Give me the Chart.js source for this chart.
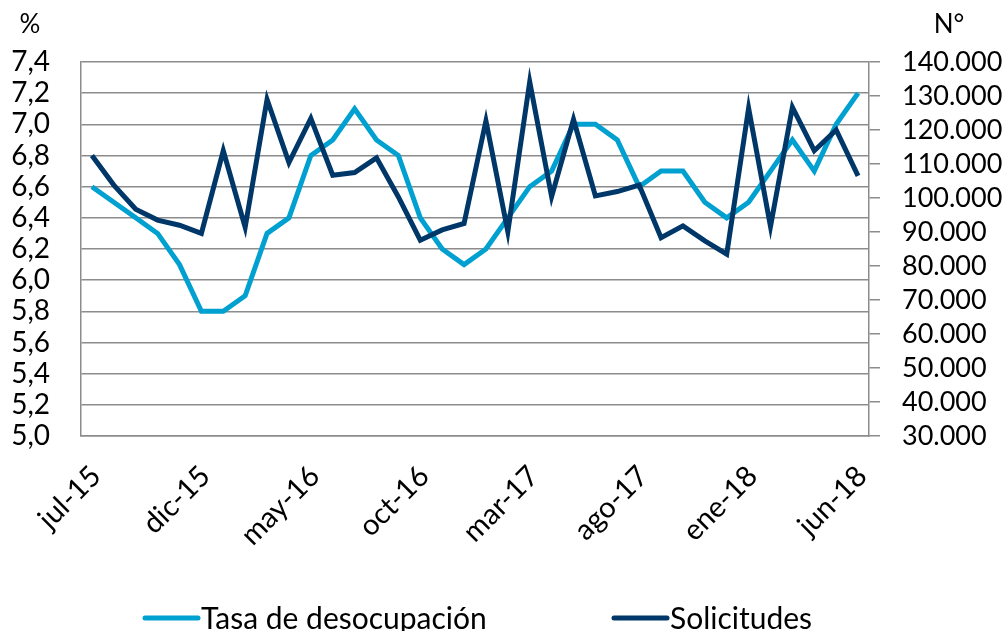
<!DOCTYPE html>
<html>
<head>
<meta charset="utf-8">
<script src="https://cdn.jsdelivr.net/npm/chart.js@4.4.1/dist/chart.umd.min.js"></script>
<style>
  html, body { margin: 0; padding: 0; background: #fff; overflow: hidden; }
  #wrap { width: 1008px; height: 631px; }
</style>
</head>
<body>
<div id="wrap"><canvas id="graph-canvas" width="1008" height="631"></canvas></div>
<script>
// datos
var meses = ['jul-15','ago-15','sep-15','oct-15','nov-15','dic-15','ene-16','feb-16','mar-16','abr-16',
	'may-16','jun-16','jul-16','ago-16','sep-16','oct-16','nov-16','dic-16','ene-17','feb-17',
	'mar-17','abr-17','may-17','jun-17','jul-17','ago-17','sep-17','oct-17','nov-17','dic-17',
	'ene-18','feb-18','mar-18','abr-18','may-18','jun-18'];

var tasa = [6.6, 6.5, 6.4, 6.3, 6.1, 5.8, 5.8, 5.9, 6.3, 6.4,
	6.8, 6.9, 7.1, 6.9, 6.8, 6.4, 6.2, 6.1, 6.2, 6.4,
	6.6, 6.7, 7.0, 7.0, 6.9, 6.6, 6.7, 6.7, 6.5, 6.4,
	6.5, 6.7, 6.9, 6.7, 7.0, 7.2];

var solicitudes = [112500, 103800, 96700, 93500, 92000, 89600, 113900, 91400, 129000, 110400,
	123400, 106700, 107500, 111800, 100300, 87600, 90600, 92500, 122700, 90100,
	134200, 100400, 123100, 100600, 101900, 103800, 88300, 91800, 87400, 83500,
	126400, 91600, 126700, 113900, 120000, 106500];

var etiquetasX = ['jul-15','dic-15','may-16','oct-16','mar-17','ago-17','ene-18','jun-18'];

var colorTasa = '#00A0D0';
var colorSol = '#003769';
var gris = '#8c8c8c';
var fuente = 'Lato';

// titulos de ejes y leyenda
var extras = {
	id: 'extras',
	afterDraw: function(chart) {
		var ctx = chart.ctx;
		ctx.save();
		ctx.fillStyle = '#000';
		ctx.font = '26px ' + fuente;
		ctx.textAlign = 'center';
		ctx.textBaseline = 'alphabetic';
		ctx.fillText('%', 30, 33);
		ctx.fillText('N°', 949, 33);

		var pos = [143, 612];
		ctx.font = '30px ' + fuente;
		ctx.textAlign = 'left';
		chart.data.datasets.forEach(function(ds, i) {
			var x = pos[i];
			ctx.strokeStyle = ds.borderColor;
			ctx.lineWidth = 5;
			ctx.lineCap = 'round';
			ctx.beginPath();
			ctx.moveTo(x + 2, 618);
			ctx.lineTo(x + 55, 618);
			ctx.stroke();
			ctx.fillText(ds.label, x + 58, 629);
		});
		ctx.restore();
	}
};

var chartData = {
	labels: meses,
	datasets: [
		{
			label: 'Tasa de desocupación',
			data: tasa,
			borderColor: colorTasa,
			backgroundColor: colorTasa,
			borderWidth: 5,
			pointRadius: 0,
			yAxisID: 'y',
			order: 1
		},
		{
			label: 'Solicitudes',
			data: solicitudes,
			borderColor: colorSol,
			backgroundColor: colorSol,
			borderWidth: 5,
			pointRadius: 0,
			yAxisID: 'y2',
			order: 0
		}
	]
};

var ctx = document.getElementById('graph-canvas');

var lineGraph = new Chart(ctx, {
	type: 'line',
	data: chartData,
	plugins: [extras],
	options: {
		responsive: false,
		animation: false,
		layout: { padding: { top: 62, left: 0, right: 0, bottom: 0 } },
		plugins: {
			legend: { display: false },
			tooltip: { enabled: false }
		},
		scales: {
			x: {
				type: 'category',
				offset: true,
				grid: { display: false },
				border: { display: true, color: gris, width: 1.5 },
				afterFit: function(scale) { scale.height = 195; },
				ticks: {
					autoSkip: false,
					minRotation: 45,
					maxRotation: 45,
					padding: 15,
					labelOffset: 4,
					color: '#000',
					font: { family: fuente, size: 29 },
					callback: function(val, i) {
						var m = meses[i];
						return etiquetasX.indexOf(m) >= 0 ? m : null;
					}
				}
			},
			y: {
				position: 'left',
				min: 5,
				max: 7.4,
				grid: { color: gris, lineWidth: 1.5, drawTicks: false },
				border: { display: true, color: gris, width: 1.5 },
				afterFit: function(scale) { scale.width = 81; },
				ticks: {
					autoSkip: false,
					stepSize: 0.2,
					padding: 31,
					color: '#000',
					font: { family: fuente, size: 28 },
					callback: function(v) { return v.toFixed(1).replace('.', ','); }
				}
			},
			y2: {
				position: 'right',
				min: 30000,
				max: 140000,
				grid: { drawOnChartArea: false, drawTicks: true, tickLength: 11, color: gris, lineWidth: 1.5 },
				border: { display: true, color: gris, width: 1.5 },
				afterFit: function(scale) { scale.width = 139; },
				ticks: {
					autoSkip: false,
					stepSize: 10000,
					padding: 22,
					color: '#000',
					font: { family: fuente, size: 27 },
					callback: function(v) { return String(v).replace(/\B(?=(\d{3})+(?!\d))/g, '.'); }
				}
			}
		}
	}
});
</script>
</body>
</html>
